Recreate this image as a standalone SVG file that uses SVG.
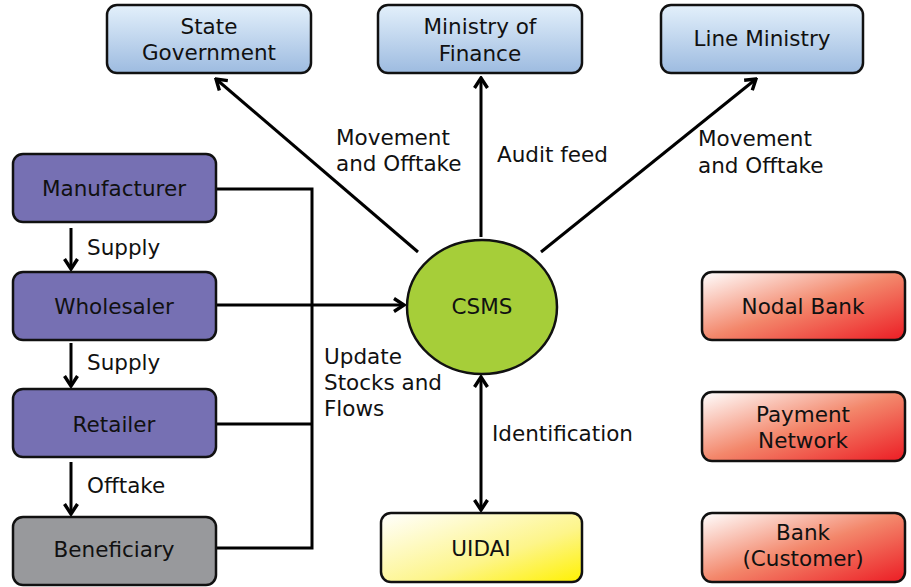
<svg xmlns="http://www.w3.org/2000/svg" width="911" height="587" viewBox="0 0 911 587">
<defs>
<linearGradient id="blue" x1="0" y1="0" x2="0" y2="1">
<stop offset="0" stop-color="#e3f0fb"/>
<stop offset="1" stop-color="#9dbbe0"/>
</linearGradient>
<linearGradient id="red" x1="0" y1="0" x2="1" y2="1">
<stop offset="0" stop-color="#ffffff"/>
<stop offset="0.5" stop-color="#f3876b"/>
<stop offset="1" stop-color="#ec1c24"/>
</linearGradient>
<linearGradient id="yellow" x1="0" y1="0" x2="1" y2="1">
<stop offset="0" stop-color="#ffffff"/>
<stop offset="0.6" stop-color="#fdf58a"/>
<stop offset="1" stop-color="#fff100"/>
</linearGradient>
<marker id="arr" viewBox="0 0 14 16" refX="12" refY="8" markerWidth="14" markerHeight="16" markerUnits="userSpaceOnUse" orient="auto-start-reverse">
<path d="M2,1.5 L12,8 L2,14.5" fill="none" stroke="#000" stroke-width="3.4"/>
</marker>
<style>
.box{stroke:#111;stroke-width:2.5}
.purple{fill:#7670b3}
.gray{fill:#98999c}
.t{font-family:"DejaVu Sans","Noto Sans",sans-serif;font-size:21.5px;fill:#111;text-anchor:middle}
.l{font-family:"DejaVu Sans","Noto Sans",sans-serif;font-size:21.5px;fill:#111}
.c{fill:none;stroke:#000;stroke-width:3}
</style>
</defs>
<g id="connectors">
<path class="c" d="M216,189 H312 V548 H216"/>
<path class="c" d="M216,424 H312"/>
<path class="c" d="M216,305 H404" marker-end="url(#arr)"/>
<path class="c" d="M71,228 V269" marker-end="url(#arr)"/>
<path class="c" d="M71,343 V386" marker-end="url(#arr)"/>
<path class="c" d="M71,462 V514" marker-end="url(#arr)"/>
<path class="c" d="M418,252 L216,79" marker-end="url(#arr)"/>
<path class="c" d="M481,237 V78" marker-end="url(#arr)"/>
<path class="c" d="M541,252 L756,79" marker-end="url(#arr)"/>
<path class="c" d="M481,377 V510" marker-start="url(#arr)" marker-end="url(#arr)"/>
<text class="l" x="87" y="255">Supply</text>
<text class="l" x="87" y="370">Supply</text>
<text class="l" x="87" y="493">Offtake</text>
<text class="l" x="336" y="145"><tspan x="336">Movement</tspan><tspan x="336" dy="26">and Offtake</tspan></text>
<text class="l" x="497" y="162">Audit feed</text>
<text class="l" x="698" y="146"><tspan x="698">Movement</tspan><tspan x="698" dy="27">and Offtake</tspan></text>
<text class="l" x="324" y="364"><tspan x="324">Update</tspan><tspan x="324" dy="26">Stocks and</tspan><tspan x="324" dy="26">Flows</tspan></text>
<text class="l" x="492" y="441">Identification</text>
</g>
<g id="state-government">
<rect class="box" x="107" y="5" width="204" height="68" rx="10" fill="url(#blue)"/>
<text class="t" x="209" y="34"><tspan x="209">State</tspan><tspan x="209" dy="26">Government</tspan></text>
</g>
<g id="ministry-of-finance">
<rect class="box" x="378" y="5" width="204" height="68" rx="10" fill="url(#blue)"/>
<text class="t" x="480" y="34"><tspan x="480">Ministry of</tspan><tspan x="480" dy="27">Finance</tspan></text>
</g>
<g id="line-ministry">
<rect class="box" x="661" y="5" width="202" height="68" rx="10" fill="url(#blue)"/>
<text class="t" x="762" y="46">Line Ministry</text>
</g>
<g id="manufacturer">
<rect class="box purple" x="13" y="154" width="203" height="68" rx="10"/>
<text class="t" x="114" y="196">Manufacturer</text>
</g>
<g id="wholesaler">
<rect class="box purple" x="13" y="272" width="203" height="68" rx="10"/>
<text class="t" x="114" y="314">Wholesaler</text>
</g>
<g id="retailer">
<rect class="box purple" x="13" y="389" width="203" height="68" rx="10"/>
<text class="t" x="114" y="432">Retailer</text>
</g>
<g id="beneficiary">
<rect class="box gray" x="13" y="517" width="203" height="68" rx="10"/>
<text class="t" x="114" y="557">Beneficiary</text>
</g>
<g id="csms">
<ellipse class="box" cx="482" cy="307" rx="75" ry="67" fill="#a6ce39"/>
<text class="t" x="482" y="314">CSMS</text>
</g>
<g id="uidai">
<rect class="box" x="381" y="513" width="201" height="69" rx="10" fill="url(#yellow)"/>
<text class="t" x="481" y="556">UIDAI</text>
</g>
<g id="nodal-bank">
<rect class="box" x="702" y="272" width="203" height="68" rx="10" fill="url(#red)"/>
<text class="t" x="803" y="314">Nodal Bank</text>
</g>
<g id="payment-network">
<rect class="box" x="702" y="392" width="203" height="69" rx="10" fill="url(#red)"/>
<text class="t" x="803" y="422"><tspan x="803">Payment</tspan><tspan x="803" dy="25.5">Network</tspan></text>
</g>
<g id="bank-customer">
<rect class="box" x="702" y="513" width="203" height="69" rx="10" fill="url(#red)"/>
<text class="t" x="803" y="540"><tspan x="803">Bank</tspan><tspan x="803" dy="25.5">(Customer)</tspan></text>
</g>
</svg>
